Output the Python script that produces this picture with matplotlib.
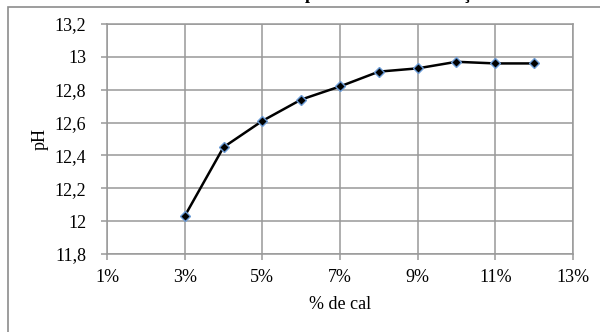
import matplotlib
matplotlib.use('Agg')
import matplotlib.pyplot as plt
from matplotlib.patches import Rectangle

# pH da mistura conforme a porcentagem de cal
cal = [3, 4, 5, 6, 7, 8, 9, 10, 11, 12]
ph = [12.03, 12.45, 12.61, 12.74, 12.82, 12.91, 12.93, 12.97, 12.96, 12.96]

xticks = [1, 3, 5, 7, 9, 11, 13]
yticks = [11.8, 12.0, 12.2, 12.4, 12.6, 12.8, 13.0, 13.2]
titulo = 'pH versus concentração de cal'

plt.rcParams['font.family'] = ['Liberation Serif', 'DejaVu Serif']
grey = '#999999'

fig = plt.figure(figsize=(6, 3.32), dpi=100)
W, H = 600, 332

# moldura externa do gráfico
fig.patches.append(Rectangle((8 / W, -0.1), 1.2, 1 - 7 / H + 0.1,
                             transform=fig.transFigure, fill=False,
                             edgecolor='#8c8c8c', lw=1.2))

# título acima da área visível (só as hastes descendentes aparecem)
fig.text(305 / W, 1 + 1 / H, titulo, fontsize=13, fontweight='bold',
         ha='left', va='baseline')

ax = fig.add_axes([107 / W, 1 - 254 / H, (573 - 107) / W, (254 - 24) / H])
ax.plot(cal, ph, color='black', lw=1.8, marker='D', markersize=5.5,
        markerfacecolor='black', markeredgecolor='#6b9bd6', markeredgewidth=1.0,
        zorder=3)

ax.set_xlim(1, 13)
ax.set_ylim(11.8, 13.2)
ax.set_xticks(xticks)
ax.set_xticklabels([f'{v}%' for v in xticks])
ax.set_yticks(yticks)
ax.set_yticklabels([f'{v:g}'.replace('.', ',') for v in yticks])
ax.grid(True, color=grey, lw=1.1)
ax.set_axisbelow(True)
for s in ax.spines.values():
    s.set_color(grey)
    s.set_linewidth(1.1)
ax.tick_params(axis='both', colors=grey, labelcolor='black', labelsize=13,
               length=4, width=1.1, direction='out')
ax.tick_params(axis='y', pad=11)
ax.tick_params(axis='x', pad=7)

ax.set_xlabel('% de cal', fontsize=13, labelpad=7)
ax.set_ylabel('pH', fontsize=13, labelpad=4)

fig.savefig('out.png', dpi=100)
